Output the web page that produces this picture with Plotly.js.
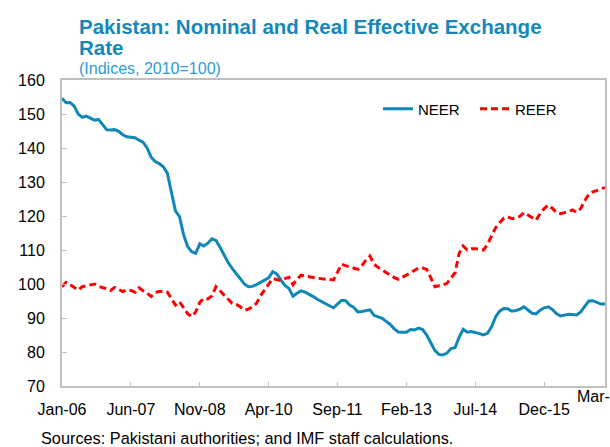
<!DOCTYPE html>
<html>
<head>
<meta charset="utf-8">
<script src="https://cdn.plot.ly/plotly-3.0.1.min.js"></script>
<style>html,body{margin:0;padding:0;background:#fff;}#chart{width:610px;height:447px;}</style>
</head>
<body>
<div id="chart"></div>
<script>
// Monthly index values, Jan-06 .. Mar-17 (2010 = 100)
var neer = [
 154.6,153.3,153.4,152.3,150.0,149.0,149.4,148.8,148.2,148.4,147.0,145.4,
 145.3,145.4,144.9,143.9,143.3,143.2,143.0,142.3,141.7,140.0,137.3,136.0,
 135.4,134.5,132.6,127.0,121.5,119.8,114.5,111.0,109.5,109.0,111.8,111.2,
 112.0,113.3,112.8,110.8,108.5,106.3,104.6,103.0,101.7,100.0,99.2,99.3,
 99.8,100.4,101.0,101.8,103.6,103.0,101.2,99.6,98.7,96.4,97.3,98.0,
 97.6,97.0,96.3,95.5,94.8,94.1,93.6,93.0,94.0,95.2,95.1,93.8,
 93.1,91.8,91.9,92.1,92.4,90.8,90.4,89.9,89.0,88.1,86.8,85.9,
 85.8,85.8,86.6,86.5,87.0,86.6,85.0,82.6,80.5,79.3,79.1,79.7,
 81.0,81.3,84.3,86.7,85.8,86.0,85.8,85.4,85.0,85.5,87.4,90.3,
 92.0,92.8,92.7,92.0,92.2,92.6,93.3,92.2,91.4,91.2,92.3,93.0,
 93.3,92.5,91.3,90.6,90.9,91.1,91.0,90.9,91.8,93.5,95.0,95.1,
 94.6,94.1,94.1
];
var reer = [
 99.2,100.5,99.8,98.9,98.2,99.2,99.5,99.7,100.0,99.3,99.0,98.6,
 98.1,99.0,98.4,97.8,98.3,98.1,97.6,98.9,98.0,97.3,96.3,97.5,
 97.8,97.9,97.6,95.8,93.8,94.8,93.0,91.3,90.4,91.8,94.6,95.8,
 95.6,96.5,99.2,98.0,96.5,95.3,94.3,94.0,93.3,92.3,92.6,93.3,
 94.3,96.6,98.3,99.8,101.6,101.3,101.0,101.6,102.0,99.8,101.4,102.6,
 102.3,102.1,101.9,101.7,101.5,101.4,101.3,101.2,103.5,105.8,105.4,105.0,
 104.6,104.3,105.4,107.0,108.2,105.8,104.9,104.1,103.3,102.5,101.9,101.4,
 101.9,102.6,103.3,104.1,104.7,104.7,104.3,101.9,99.2,99.5,99.7,100.2,
 101.8,103.3,109.0,111.2,110.0,110.4,110.4,110.2,110.0,111.7,114.0,116.5,
 118.0,119.3,119.8,119.2,119.4,119.9,121.0,120.2,119.4,118.8,120.8,122.2,
 123.2,122.3,121.0,120.7,121.0,121.4,121.8,121.1,122.2,124.5,126.4,127.1,
 127.4,127.9,128.4
];
var tickLabels = ['Jan-06','Jun-07','Nov-08','Apr-10','Sep-11','Feb-13','Jul-14','Dec-15'];
var seriesNames = ['NEER','REER'];

// month categories Jan-06 .. Mar-17
var monNames = ['Jan','Feb','Mar','Apr','May','Jun','Jul','Aug','Sep','Oct','Nov','Dec'];
var months = [];
for (var i = 0; i < neer.length; i++) {
  var yr = 6 + Math.floor(i / 12);
  months.push(monNames[i % 12] + '-' + (yr < 10 ? '0' + yr : '' + yr));
}

var FONT = 'Liberation Sans, Arial, sans-serif';
var T = 386, H = 306; // pixel helpers for paper coords
function py(p){ return (T - p) / H; }
function px(p){ return (p - 62) / 543; }

var traces = [
  {x: months, y: neer, name: seriesNames[0], type: 'scatter', mode: 'lines',
   line: {color: '#1187b8', width: 3}},
  {x: months, y: reer, name: seriesNames[1], type: 'scatter', mode: 'lines',
   line: {color: '#ff0000', width: 3, dash: '7px,4px'}}
];

var layout = {
  width: 610, height: 447,
  margin: {l: 62, r: 5, t: 80, b: 61, pad: 0, autoexpand: false},
  paper_bgcolor: '#ffffff', plot_bgcolor: '#ffffff',
  font: {family: FONT, size: 16, color: '#000000'},
  showlegend: true,
  legend: {orientation: 'h', x: px(378), y: py(109), xanchor: 'left', yanchor: 'middle',
           font: {family: FONT, size: 15, color: '#000'}, itemwidth: 30,
           entrywidth: 52, entrywidthmode: 'pixels', bgcolor: 'rgba(0,0,0,0)', borderwidth: 0},
  xaxis: {type: 'category', range: [0, months.length - 1], tickmode: 'array',
          tickvals: tickLabels, ticktext: tickLabels, ticks: 'inside', ticklen: 4,
          tickcolor: '#bfbfbf', tickwidth: 1, showline: true, linecolor: '#bfbfbf',
          linewidth: 2, mirror: true, showgrid: false, zeroline: false,
          tickfont: {family: FONT, size: 16, color: '#000'}, ticklabelstandoff: 8},
  yaxis: {range: [70, 160], dtick: 10, tick0: 70, ticks: 'inside', ticklen: 5,
          tickcolor: '#bfbfbf', tickwidth: 1, showline: true, linecolor: '#bfbfbf',
          linewidth: 2, mirror: true, showgrid: false, zeroline: false,
          tickfont: {family: FONT, size: 16, color: '#000'}, ticklabelstandoff: 12},
  annotations: [
    {text: '<b>Pakistan: Nominal and Real Effective Exchange</b>', xref: 'paper', yref: 'paper',
     x: px(77), y: py(27), xanchor: 'left', yanchor: 'middle', showarrow: false,
     font: {family: FONT, size: 20.5, color: '#1587b8'}},
    {text: '<b>Rate</b>', xref: 'paper', yref: 'paper',
     x: px(77), y: py(48), xanchor: 'left', yanchor: 'middle', showarrow: false,
     font: {family: FONT, size: 20.5, color: '#1587b8'}},
    {text: '(Indices, 2010=100)', xref: 'paper', yref: 'paper',
     x: px(77), y: py(69), xanchor: 'left', yanchor: 'middle', showarrow: false,
     font: {family: FONT, size: 16, color: '#2e9bd4'}},
    {text: 'Mar-', xref: 'paper', yref: 'paper',
     x: px(575), y: py(396.4), xanchor: 'left', yanchor: 'middle', showarrow: false,
     font: {family: FONT, size: 16, color: '#000'}},
    {text: 'Sources: Pakistani authorities; and IMF staff calculations.', xref: 'paper', yref: 'paper',
     x: px(39), y: py(437.5), xanchor: 'left', yanchor: 'middle', showarrow: false,
     font: {family: FONT, size: 16.3, color: '#000'}}
  ]
};

Plotly.newPlot('chart', traces, layout, {displayModeBar: false, staticPlot: true});
</script>
</body>
</html>
